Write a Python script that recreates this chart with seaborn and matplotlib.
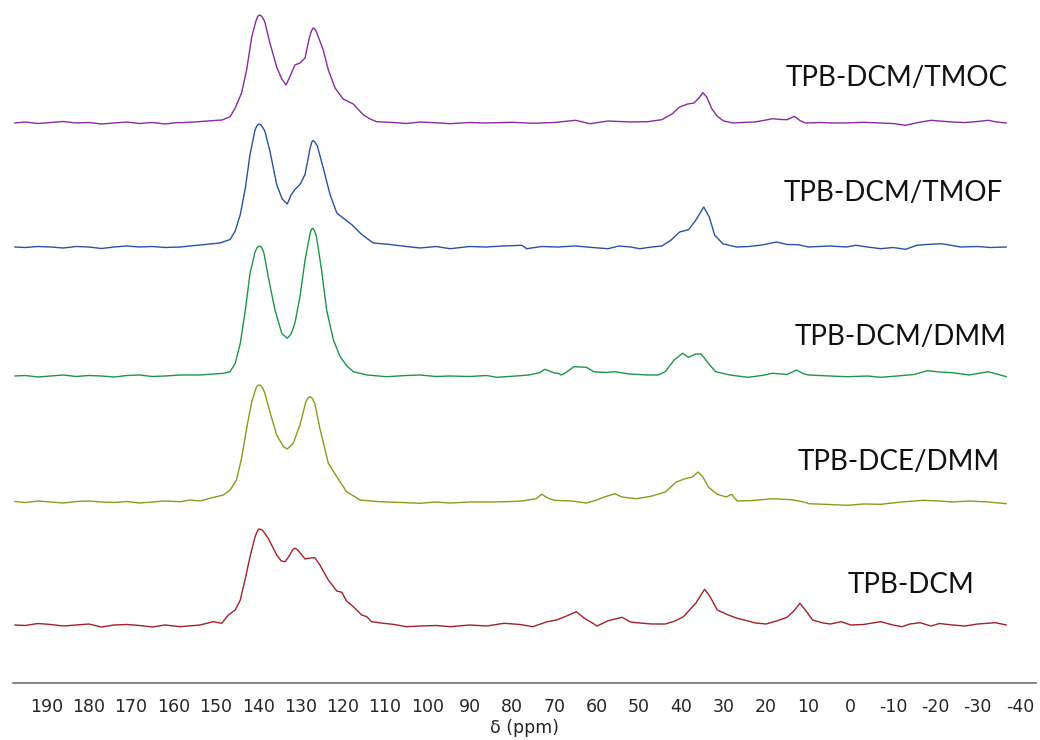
import numpy as np
import pandas as pd
import seaborn as sns
import matplotlib.pyplot as plt
from matplotlib.ticker import MultipleLocator

# spectra: (ppm, height above baseline)
tmoc_ppm = [197.5, 195, 192, 189, 186, 183, 180, 177, 174, 171, 168, 165, 162, 159,
            158.4, 155, 151.0, 148.5, 146.6, 145.4, 143.9, 142.7, 141.5, 140.5, 140.1, 139.7,
            139.2, 138.8, 138.4,
            137.2, 135.6, 134.4, 133.4, 132.3, 131.3, 130.1, 128.9, 127.9, 127.4, 127.0, 126.6,
            126.2, 124.6,
            123.4, 121.8, 119.9, 117.5, 115.1, 113.5, 112.0, 108, 105, 101.7,
            97, 94.6, 90, 86.2, 80, 75, 70, 65.0, 61.6, 57.3, 52, 48, 44.6, 42.1, 40.4, 38.5,
            37.0, 36.0, 34.9, 34.0, 32.8, 31.5, 30, 27.7, 25, 22.6, 20, 18.4, 16.5, 15.0, 13.3,
            12, 10.7, 7, 4, 1.4, -3, -7, -10, -13.0, -16, -19.0, -21, -24.0, -27, -30, -32.5,
            -34.5, -36.8]
tmoc_int = [0, 1, -0.5, 0.5, 1.5, 0, 0.5, -1, 0, 1, -0.5, 0.5, -1, 0.5,
            0.3, 1, 2.3, 3, 6.3, 15, 30, 53, 86, 102, 106.5, 108,
            107, 104.5, 101,
            80, 56, 44, 38, 48, 58, 60, 65, 85, 92, 95, 94,
            91, 73,
            53, 35, 24, 19, 8, 4, 1.3, 0.5, -0.5, 1,
            0, -0.7, 0.5, 0, 0.7, -0.3, 0.5, 2.7, -0.7, 2, 1, 1.3, 3.3, 9.3, 16, 19,
            20, 24.3, 30.3, 26, 14.3, 6.7, 2, 0, 0.7, 1, 3, 4.3, 3.5, 3.3, 6.7,
            2.5, 0, 0.5, 0, 0, 0.7, 0, -0.5, -2.3, 0.5, 2.7, 2, 1, 0.5, 1.5, 2.7,
            1, 0]

tmof_ppm = [197.5, 195, 192, 189, 186, 183, 180, 177, 174, 171, 168, 165, 162,
            158.4, 153.7, 149.0, 146.6, 145.4, 144.2, 143.0, 141.9, 140.7, 140.2, 139.8, 139.3,
            138.9, 138.4,
            137.2, 135.6, 134.3, 133.1, 132.2, 131.3, 130.1, 128.9, 127.7, 127.3, 127.0, 126.6,
            126.0,
            124.6, 123.0, 121.4, 119.9, 117.9, 115.5, 112.8, 108.8, 105, 101.7,
            98, 94.6, 90, 86.2, 82, 77.7, 76.5, 73, 69.2, 65, 61, 57.3, 54.8, 52, 49.8, 47,
            44.6, 42.5, 40.4, 38.3, 36.6, 34.7, 33.4, 32.1, 30.2, 28, 26.9, 24, 21, 17.5, 15,
            12.4, 10, 5, 1, -1.2, -4, -7.1, -10, -13, -15.6, -18, -21.5, -24, -26, -30, -33,
            -36.8]
tmof_int = [0, -0.5, 0.5, 0, -1, 0.5, 0, -1.5, 0, 1, 0, 0.5, -0.5,
            0, 2, 4, 7.5, 16, 32.5, 59, 92.5, 117.5, 121.5, 123, 122,
            119.5, 116,
            96, 62.5, 48, 43, 52, 57.5, 62.5, 72.5, 99, 105, 106.5, 105,
            101,
            79, 52.5, 34, 29, 22.5, 12.5, 4, 2.5, 0.5, -1,
            0.5, -1.7, 0.5, 0, 1, 1.7, -1.7, 0.5, 0, 1, -0.5, -1.7, 1, 0, -1.7, 0,
            1, 6.7, 15, 17.3, 26.7, 40, 30, 11.7, 3.3, 1, 0, 0.5, 2, 5, 2.5,
            2.3, 0, 1, 0, 1.7, 0, -1.7, -0.5, -2.3, 1.7, 2.5, 3.3, 1.5, 0, 0.5, -0.5,
            0]

dmm_ppm = [197.5, 195, 192, 189, 186, 183, 180, 177, 174, 171, 168, 165, 162,
           158.4, 153.7, 148.2, 146.6, 145.4, 144.2, 143.0, 141.9, 140.7, 140.2, 139.7, 139.2,
           138.9, 138.6,
           137.6, 136.0, 134.4, 133.1, 132.2, 131.3, 130.1, 128.9, 127.7, 127.4, 127.1, 126.7,
           126.2,
           125.0, 123.8, 122.2, 120.6, 119, 117.5, 114.3, 109.6, 105, 101.7,
           98, 94.6, 90, 86, 83.6, 79, 76, 73.5, 72.2, 70, 69, 68.4, 67.5, 65.4, 62.4, 60.7,
           58, 55.7, 52.3, 48, 45.5, 43.8, 41.7, 39.7, 38.3, 36.6, 35.3, 33.6, 31.9, 28.5,
           24.3, 21, 18.4, 15, 12.8, 11, 9.9, 5, 0.8, -4, -7.1, -11, -15, -18.1, -21, -24,
           -28, -32.5, -34.5, -36.8]
dmm_int = [0, 0.5, -1, 0, 1, -0.5, 0.5, 0, -1, 0.5, 1, -0.5, 0,
           1, 1, 2.7, 4.3, 12.7, 32.7, 66, 102.7, 124.3, 128.5, 130, 129,
           126, 122.7,
           99.3, 66, 42.7, 37.7, 42, 52.7, 79.3, 116, 142.7, 146.5, 147.7, 145.5,
           139.3,
           106, 66, 36, 19.3, 10, 4.3, 1, -0.7, 0.5, 1,
           -0.5, 0, -0.5, 0.5, -1.3, 0, 1, 3.3, 6.7, 3, 2.7, 1, 2.7, 9.3, 8.7, 4.3,
           3.5, 4.3, 2, 1, 1, 4.3, 16, 22.7, 18.7, 22, 22, 12.7, 4.3, 1,
           -1.3, 0.5, 2.7, 1.5, 6, 2, 1, 0, -0.7, 0, -1.3, 0, 1.5, 5.3, 4, 3.3,
           1, 4.3, 2, -0.7]

dce_ppm = [197.5, 195, 192, 189, 186, 183, 180, 177, 174, 171, 168, 165, 162,
           158.4, 156.1, 153.7, 151.4, 148.2, 146.6, 145.1, 143.9, 142.7, 141.5, 140.5,
           140.1, 139.7, 139.2, 138.8, 138.4, 137.0, 135.6, 134.0, 133.1, 131.7, 130.1,
           128.7, 128.2, 127.7, 127.2, 126.6,
           125.4, 123.4, 121.4, 119.1, 115.9, 111.2, 106, 101.7,
           98, 94.6, 90, 84.5, 80, 77.7, 74.3, 73.0, 71.5, 70.1, 66, 62.4, 60, 58.2, 55.7,
           54.0, 50.6, 47.2, 43.8, 41.2, 39.1, 37.4, 36.0, 34.9, 33.6, 31.5, 29.4, 28.1,
           26.8, 23, 18.4, 14, 11, 9.9, 5, 0.8, -3, -7.1, -12, -17.3, -21, -24, -28, -32.5,
           -36.8]
dce_int = [0.5, -0.5, 1, 0, -1, 0.5, 1, 0, -0.5, 0.5, -1, 0, 1,
           0.3, 2, 1, 3.7, 7, 12, 22, 43.7, 73.7, 100.3, 113.7,
           116.5, 117, 116, 113, 108.7, 87, 67, 55.3, 53, 58.7, 77,
           100.3, 104, 105.3, 103.5, 98.7,
           73.7, 38.7, 25.3, 10.3, 2, 0.3, -0.5, -1.3,
           0, -1, 0, 0, 0.5, 1, 3.3, 7.7, 4, 1.7, 1, -1, 2, 5, 8.3,
           5, 3.3, 5.7, 10, 20, 23.3, 25, 30, 25, 15, 7.7, 5, 7.7,
           1, 1.5, 3.3, 2.3, 0, -1.7, -2.5, -3.3, -2, -2.3, 0, 1.7, 1, 0, 1, 0,
           -1.7]

dcm_ppm = [197.5, 195, 192, 189, 186, 183, 180, 177, 174, 171, 168, 165, 162,
           158.4, 153.7, 150.6, 148.6, 147.0, 145.4, 144.2, 143.0, 141.9, 140.7, 140.2,
           139.8, 139.3, 138.8, 137.6, 135.6, 134.5, 133.6, 132.5, 131.8, 131.3, 130.8,
           130.3, 128.9, 127.6, 126.6,
           125.4, 123.4, 121.4, 120.2, 119.1, 117.5, 115.5, 114.3, 113.2, 110.4, 108.1,
           104.9, 101.7,
           98, 94.6, 90, 86, 81.9, 78, 75.1, 71.7, 69.5, 67.5, 64.8, 62.9, 61, 59.9, 57.3,
           54.0, 52, 50.6, 47, 43.8, 41.5, 39.5, 36.6, 34.5, 33.2, 31.5, 28.9, 27, 25.1,
           22.5, 20.0, 17.5, 15.0, 13.2, 12.0, 10.7, 9.0, 6.5, 4.8, 2.2, 0, -3, -7.1, -10,
           -12.2, -14, -16.4, -19, -21, -24, -27, -30, -34.2, -36.8]
dcm_int = [0, -0.5, 1.5, 0.5, -1, 0, 1, -2, 0, 0.5, -0.5, -2, 0,
           -1.7, 0, 3.3, 1.7, 10, 15, 25, 46.7, 68.3, 88.3, 93.5,
           96, 95.5, 94, 86.7, 70, 64, 63.3, 70, 75.5, 76.7, 75.5,
           73.3, 66, 67, 67.3,
           60, 45, 34, 32.7, 24, 18.3, 10, 8.3, 3.3, 1.7, 0.7,
           -1.7, -1,
           -0.5, -1.7, 0, -1, 1.7, 0.5, -1.7, 3.3, 5, 8.3, 13.3, 6.7, 2, -1, 4.3,
           7.7, 3, 2.3, 1, 1, 4, 8.3, 21.7, 35.7, 28.3, 15, 10, 7, 5,
           2, 1, 4, 7.7, 15, 21.7, 15, 5, 2, 1, 3.3, 0, 0.5, 3.3, 0,
           -1.7, 1, 2.3, -1, 1.5, 0, -1, 1, 2.3, 0]

samples = ["TPB-DCM/TMOC", "TPB-DCM/TMOF", "TPB-DCM/DMM", "TPB-DCE/DMM", "TPB-DCM"]
spectra = {
    "TPB-DCM/TMOC": (tmoc_ppm, tmoc_int),
    "TPB-DCM/TMOF": (tmof_ppm, tmof_int),
    "TPB-DCM/DMM": (dmm_ppm, dmm_int),
    "TPB-DCE/DMM": (dce_ppm, dce_int),
    "TPB-DCM": (dcm_ppm, dcm_int),
}

# layout: stacking offsets and label anchors
offsets = {"TPB-DCM/TMOC": 560, "TPB-DCM/TMOF": 436, "TPB-DCM/DMM": 307,
           "TPB-DCE/DMM": 181, "TPB-DCM": 58}
label_pos = {"TPB-DCM/TMOC": (-10.9, 605), "TPB-DCM/TMOF": (-10.0, 490),
             "TPB-DCM/DMM": (-11.9, 346), "TPB-DCE/DMM": (-11.4, 221),
             "TPB-DCM": (-14.2, 98)}
colors = {"TPB-DCM/TMOC": "#8a2aa0", "TPB-DCM/TMOF": "#2a52a0",
          "TPB-DCM/DMM": "#1d9648", "TPB-DCE/DMM": "#8c9a18", "TPB-DCM": "#a0222a"}

rows = []
for s in samples:
    p, v = spectra[s]
    for a, b in zip(p, v):
        rows.append({"ppm": a, "y": b + offsets[s], "sample": s})
df = pd.DataFrame(rows)

sns.set_style("white")
plt.rcParams["axes.unicode_minus"] = False
fig = plt.figure(figsize=(10.4, 7.4), dpi=100)
ax = fig.add_axes([13 / 1040, 57 / 740, 1023 / 1040, 683 / 740])

sns.lineplot(data=df, x="ppm", y="y", hue="sample", palette=colors,
             estimator=None, sort=True, linewidth=1.0, legend=False, ax=ax)

for s in samples:
    x, y = label_pos[s]
    ax.text(x, y, s, ha="center", va="center", fontsize=20,
            family=["Lato", "DejaVu Sans"], color="#111111")

ax.set_xlim(197.9, -43.8)
ax.set_ylim(0, 683)
for side in ["left", "right", "top"]:
    ax.spines[side].set_visible(False)
ax.spines["bottom"].set_color("#707070")
ax.spines["bottom"].set_linewidth(1.2)
ax.set_yticks([])
ax.xaxis.set_major_locator(MultipleLocator(10))
ax.xaxis.set_minor_locator(MultipleLocator(5))
ax.set_xticks(range(190, -41, -10))
ax.tick_params(axis="x", which="major", direction="out", length=4, width=1,
               color="#707070", labelsize=12.5, pad=7)
ax.tick_params(axis="x", which="minor", direction="out", length=2.5, width=1,
               color="#707070")
ax.set_xlabel("δ (ppm)", fontsize=12.5, labelpad=2)
ax.set_ylabel("")

fig.savefig("out.png", dpi=100)
